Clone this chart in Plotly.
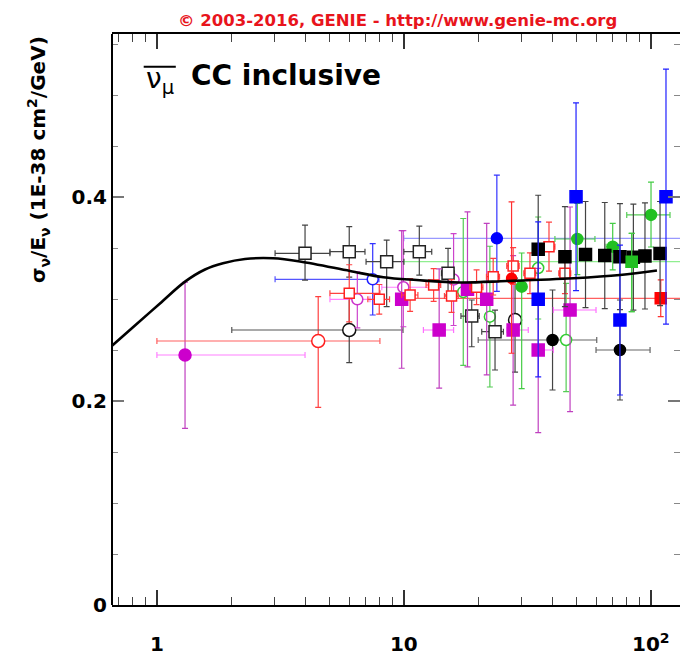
import plotly.graph_objects as go

# ---------------- data ----------------
curve_E = [0.658, 0.815, 1.029, 1.30, 1.566, 1.852, 2.274, 2.952, 3.797, 6.05, 8.26, 11.27, 16.88, 26.1, 48.6, 75.0, 105.9]
curve_y = [0.2542, 0.2740, 0.2956, 0.3170, 0.3289, 0.3350, 0.3392, 0.3399, 0.3368, 0.3275, 0.3213, 0.3186, 0.3162, 0.3176, 0.3203, 0.3235, 0.3280]

mag_circ_E = [1.30]
mag_circ_y = [0.2451]
mag_circ_eyp = [0.0713]
mag_circ_eym = [0.0719]
mag_circ_exm = [0.30]
mag_circ_exp = [2.68]

red_ocirc_E = [4.50]
red_ocirc_y = [0.2588]
red_ocirc_eyp = [0.0435]
red_ocirc_eym = [0.065]
red_ocirc_exm = [3.5]
red_ocirc_exp = [3.5]

blk_ocirc_E = [6.01, 28.2]
blk_ocirc_y = [0.2696, 0.2794]
blk_ocirc_eyp = [0.030, 0.041]
blk_ocirc_eym = [0.032, 0.051]
blk_ocirc_exm = [4.0, 0.0]
blk_ocirc_exp = [3.91, 0.0]

blk_osq_E = [3.98, 6.01, 8.52, 11.55, 15.1, 18.83, 23.4]
blk_osq_y = [0.3448, 0.3464, 0.3366, 0.3464, 0.3252, 0.2833, 0.2680]
blk_osq_eyp = [0.0277, 0.0245, 0.0212, 0.025, 0.0245, 0.0157, 0.021]
blk_osq_eym = [0.0262, 0.025, 0.044, 0.023, 0.0213, 0.0301, 0.0376]
blk_osq_exm = [0.97, 0.99, 1.49, 1.55, 0.9, 1.8, 2.73]
blk_osq_exp = [1.04, 0.95, 1.48, 1.42, 0.9, 1.37, 1.9]

blk_sq_E = [35.0, 44.9, 54.4, 65.1, 75.0, 85.0, 94.7, 109.0]
blk_sq_y = [0.3487, 0.3415, 0.3436, 0.3426, 0.3415, 0.3410, 0.3422, 0.3446]
blk_sq_ey = [0.053, 0.049, 0.052, 0.052, 0.052, 0.052, 0.052, 0.051]

blk_dot_E = [40.0, 75.0]
blk_dot_y = [0.2598, 0.2500]
blk_dot_ey = [0.049, 0.049]
blk_dot_exm = [20.0, 15.0]
blk_dot_exp = [20.4, 24.3]

blue_sq_E = [35.0, 49.8, 75.0, 115.2]
blue_sq_y = [0.2997, 0.4003, 0.2794, 0.4003]
blue_sq_ey = [0.076, 0.092, 0.0735, 0.125]

blue_dot_E = [23.8]
blue_dot_y = [0.3595]
blue_dot_eyp = [0.062]
blue_dot_eym = [0.052]
blue_dot_exm = [13.8]
blue_dot_exp = [176.0]

blue_ocirc_E = [7.48]
blue_ocirc_y = [0.3193]
blue_ocirc_ey = [0.035]
blue_ocirc_exm = [4.47]
blue_ocirc_exp = [0.45]

green_dot_E = [30.0, 50.4, 70.1, 100.2]
green_dot_y = [0.3121, 0.3588, 0.3513, 0.3824]
green_dot_eyp = [0.033, 0.035, 0.0229, 0.0322]
green_dot_eym = [0.100, 0.035, 0.0228, 0.0314]
green_dot_exm = [0.0, 9.5, 4.2, 20.3]
green_dot_exp = [0.0, 9.0, 3.8, 19.4]

green_ocirc_E = [17.4, 22.3, 35.0, 45.4]
green_ocirc_y = [0.3069, 0.2827, 0.3304, 0.2598]
green_ocirc_eyp = [0.072, 0.069, 0.050, 0.0556]
green_ocirc_eym = [0.072, 0.069, 0.050, 0.0507]

green_sq_E = [83.7]
green_sq_y = [0.3366]
green_sq_eyp = [0.0278]
green_sq_eym = [0.049]
green_sq_exm = [73.7]
green_sq_exp = [116.0]

red_sq_E = [109.7]
red_sq_y = [0.3007]
red_sq_ey = [0.018]
red_sq_exm = [99.7]
red_sq_exp = [90.0]

red_dot_E = [27.3]
red_dot_y = [0.3203]
red_dot_eyp = [0.075]
red_dot_eym = [0.0735]

red_osq_E = [6.01, 7.95, 10.6, 13.2, 15.6, 19.7, 23.0, 27.7, 32.4, 38.7, 44.9]
red_osq_y = [0.3056, 0.2997, 0.3039, 0.3137, 0.3029, 0.3115, 0.3219, 0.3324, 0.3252, 0.3513, 0.3252]
red_osq_ey = [0.028, 0.0145, 0.016, 0.016, 0.016, 0.017, 0.018, 0.018, 0.020, 0.024, 0.020]
red_osq_exm = [0.99, 0.8, 0.8, 0.9, 1.0, 1.2, 1.4, 1.6, 1.8, 2.2, 2.5]
red_osq_exp = [1.99, 0.8, 0.8, 0.9, 1.0, 1.2, 1.4, 1.6, 1.8, 2.2, 2.5]

mag_sq_E = [9.80, 13.9, 18.1, 21.65, 27.7, 35.0, 47.1]
mag_sq_y = [0.2997, 0.2696, 0.3095, 0.2997, 0.2696, 0.2500, 0.2892]
mag_sq_eyp = [0.0673, 0.060, 0.076, 0.0745, 0.073, 0.080, 0.101]
mag_sq_eym = [0.0676, 0.057, 0.076, 0.074, 0.0736, 0.081, 0.0997]
mag_sq_exm = [0.5, 1.9, 0.8, 1.0, 1.5, 1.6, 6.8]
mag_sq_exp = [0.5, 2.0, 0.8, 1.0, 4.2, 5.3, 12.9]

mag_ocirc_E = [6.48, 9.95, 15.9]
mag_ocirc_y = [0.2997, 0.3115, 0.3190]
mag_ocirc_eyp = [0.027, 0.0555, 0.045]
mag_ocirc_eym = [0.028, 0.0387, 0.045]
mag_ocirc_exm = [1.46, 1.81, 0.0]
mag_ocirc_exp = [0.81, 3.25, 0.0]

x_tickvals = [1, 10, 100]
x_ticktext = ["1", "10", "10<sup>2</sup>"]
x_minor = [0.7, 0.8, 0.9, 2, 3, 4, 5, 6, 7, 8, 9, 20, 30, 40, 50, 60, 70, 80, 90]
y_tickvals = [0, 0.2, 0.4]
y_ticktext = ["0", "0.2", "0.4"]

# ---------------- layout geometry ----------------
W, H = 680, 655
L, R, T, B = 112, 0, 34, 50
X_RANGE = [-0.1818, 2.1182]
Y_RANGE = [0, 0.5598]
PW = W - L - R
PH = H - T - B


def px2paper(px):
    return (px - L) / PW


def py2paper(py):
    return (H - B - py) / PH


fig = go.Figure()


def add(E, y, symbol, size, mcolor, fill, ecy, ecx=None,
        eyp=None, eym=None, exp=None, exm=None, lw=1.5):
    ey = dict(visible=False)
    if eyp is not None:
        ey = dict(type="data", symmetric=False, array=eyp,
                  arrayminus=eym if eym is not None else eyp,
                  color=ecy, thickness=1.2, width=3)
    ex = dict(visible=False)
    if exp is not None:
        ex = dict(type="data", symmetric=False, array=exp,
                  arrayminus=exm if exm is not None else exp,
                  color=ecx if ecx else ecy, thickness=1.2, width=3)
    fig.add_trace(go.Scatter(
        x=E, y=y, mode="markers",
        marker=dict(symbol=symbol, size=size, color=fill,
                    line=dict(color=mcolor, width=lw)),
        error_y=ey, error_x=ex, showlegend=False, hoverinfo="skip"))


# long-bar / background series first
add(green_sq_E, green_sq_y, "square", 11, "#22c022", "#22c022", "#44cc44", "#90ee90",
    green_sq_eyp, green_sq_eym, green_sq_exp, green_sq_exm)
add(blue_dot_E, blue_dot_y, "circle", 11, "#0000ff", "#0000ff", "#3333ff", "#9999ff",
    blue_dot_eyp, blue_dot_eym, blue_dot_exp, blue_dot_exm)
add(red_sq_E, red_sq_y, "square", 11, "#ff0000", "#ff0000", "#ff3030", "#ff6060",
    red_sq_ey, red_sq_ey, red_sq_exp, red_sq_exm)
add(mag_circ_E, mag_circ_y, "circle", 12, "#cc00cc", "#cc00cc", "#c040c0", "#ff80ff",
    mag_circ_eyp, mag_circ_eym, mag_circ_exp, mag_circ_exm)
add(red_ocirc_E, red_ocirc_y, "circle", 13, "#ff2020", "white", "#ff4040", "#ff6060",
    red_ocirc_eyp, red_ocirc_eym, red_ocirc_exp, red_ocirc_exm)
add(blk_ocirc_E, blk_ocirc_y, "circle", 13, "#111111", "white", "#444444", "#555555",
    blk_ocirc_eyp, blk_ocirc_eym, blk_ocirc_exp, blk_ocirc_exm)
add(blue_ocirc_E, blue_ocirc_y, "circle", 11, "#2020ff", "white", "#3333ff", "#5555ff",
    blue_ocirc_ey, blue_ocirc_ey, blue_ocirc_exp, blue_ocirc_exm)
add(blk_dot_E, blk_dot_y, "circle", 11, "#000000", "#000000", "#444444", "#666666",
    blk_dot_ey, blk_dot_ey, blk_dot_exp, blk_dot_exm)
add(green_ocirc_E, green_ocirc_y, "circle", 11, "#33cc33", "white", "#55cc55", None,
    green_ocirc_eyp, green_ocirc_eym)
add(mag_ocirc_E, mag_ocirc_y, "circle", 11, "#cc33cc", "white", "#cc44cc", "#ff80ff",
    mag_ocirc_eyp, mag_ocirc_eym, mag_ocirc_exp, mag_ocirc_exm)
add(blk_osq_E, blk_osq_y, "square", 12, "#222222", "white", "#444444", "#444444",
    blk_osq_eyp, blk_osq_eym, blk_osq_exp, blk_osq_exm)
add(mag_sq_E, mag_sq_y, "square", 12, "#cc00cc", "#cc00cc", "#c040c0", "#ff70ff",
    mag_sq_eyp, mag_sq_eym, mag_sq_exp, mag_sq_exm)
add(red_osq_E, red_osq_y, "square", 10, "#ff2020", "white", "#ff4040", "#ff4040",
    red_osq_ey, red_osq_ey, red_osq_exp, red_osq_exm)
add(red_dot_E, red_dot_y, "circle", 10, "#ff0000", "#ff0000", "#ff3030", None,
    red_dot_eyp, red_dot_eym)
add(green_dot_E, green_dot_y, "circle", 11, "#22c022", "#22c022", "#44cc44", "#55cc55",
    green_dot_eyp, green_dot_eym, green_dot_exp, green_dot_exm)
add(blk_sq_E, blk_sq_y, "square", 12, "#000000", "#000000", "#444444", None,
    blk_sq_ey, blk_sq_ey)
add(blue_sq_E, blue_sq_y, "square", 12, "#0000ff", "#0000ff", "#2020ff", None,
    blue_sq_ey, blue_sq_ey)
add(green_sq_E, green_sq_y, "square", 11, "#22c022", "#22c022", "#44cc44", None,
    green_sq_eyp, green_sq_eym)

# GENIE prediction
fig.add_trace(go.Scatter(x=curve_E, y=curve_y, mode="lines",
                         line=dict(color="black", width=2.6, shape="spline", smoothing=1.0),
                         showlegend=False, hoverinfo="skip"))

bold = dict(family="DejaVu Sans", size=20, color="black", weight="bold")

fig.update_layout(
    width=W, height=H,
    margin=dict(l=L, r=R, t=T, b=B, pad=0),
    paper_bgcolor="white", plot_bgcolor="white",
    xaxis=dict(type="log", range=X_RANGE, showgrid=False, zeroline=False,
               showline=True, linecolor="black", linewidth=2, mirror="ticks",
               ticks="inside", ticklen=15, tickwidth=1.5, tickcolor="#333",
               tickvals=x_tickvals, ticktext=x_ticktext, tickfont=bold,
               ticklabelstandoff=20,
               minor=dict(tickvals=x_minor, ticks="inside", ticklen=8,
                          tickwidth=1.2, tickcolor="#444", showgrid=False)),
    yaxis=dict(range=Y_RANGE, showgrid=False, zeroline=False,
               showline=False, mirror="ticks",
               ticks="inside", ticklen=12, tickwidth=1.5, tickcolor="#777",
               tickvals=y_tickvals, ticktext=y_ticktext, tickfont=bold,
               ticklabelstandoff=4,
               minor=dict(dtick=0.05, tick0=0, ticks="inside", ticklen=6,
                          tickwidth=1.2, tickcolor="#888", showgrid=False)),
    shapes=[
        dict(type="line", xref="paper", yref="paper", x0=0, x1=0, y0=0, y1=1,
             line=dict(color="black", width=2)),
        dict(type="line", xref="paper", yref="paper",
             x0=px2paper(143.7), x1=px2paper(175.8),
             y0=py2paper(66.7), y1=py2paper(66.7),
             line=dict(color="black", width=2)),
    ],
    annotations=[
        dict(text="© 2003-2016, GENIE - http://www.genie-mc.org",
             xref="paper", yref="paper", x=px2paper(397), y=py2paper(20),
             xanchor="center", yanchor="middle", showarrow=False,
             font=dict(family="DejaVu Sans", size=16.5, color="#e8141c", weight="bold")),
        dict(text="CC inclusive", xref="paper", yref="paper",
             x=px2paper(188.8), y=py2paper(75), xanchor="left", yanchor="middle",
             showarrow=False,
             font=dict(family="DejaVu Sans", size=28, color="black", weight="bold")),
        dict(text="ν<sub>μ</sub>", xref="paper", yref="paper",
             x=px2paper(143.5), y=py2paper(80), xanchor="left", yanchor="middle",
             showarrow=False,
             font=dict(family="DejaVu Sans", size=28, color="black")),
        dict(text="σ<sub>ν</sub>/E<sub>ν</sub> (1E-38 cm<sup>2</sup>/GeV)",
             xref="paper", yref="paper", x=px2paper(38), y=py2paper(160),
             xanchor="center", yanchor="middle", textangle=-90, showarrow=False,
             font=dict(family="DejaVu Sans", size=20, color="black", weight="bold")),
    ],
)

fig.write_html("out.html")
